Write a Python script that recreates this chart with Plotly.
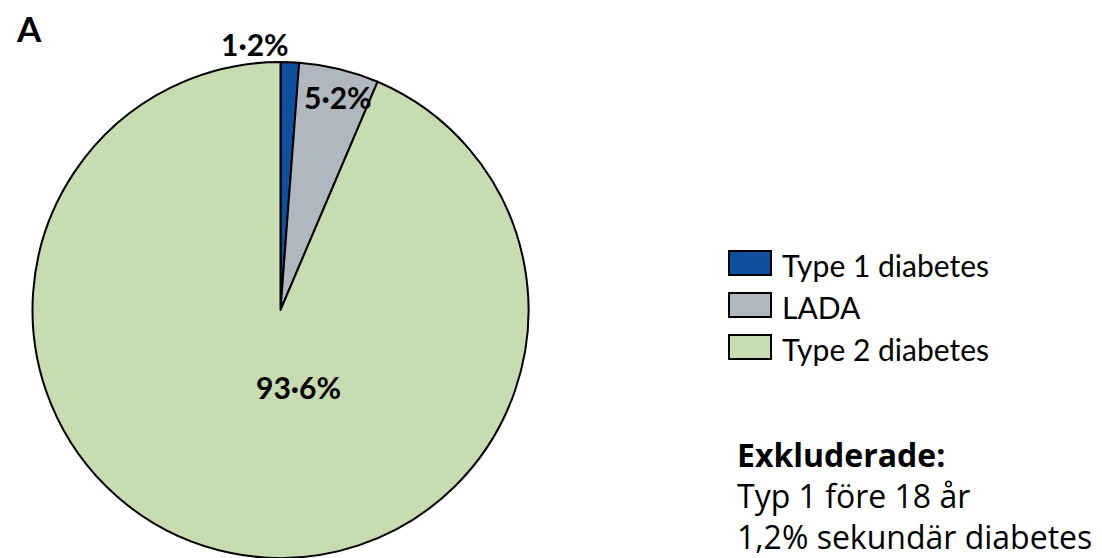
import plotly.graph_objects as go

# data
labels = ["Type 1 diabetes", "LADA", "Type 2 diabetes"]
values = [1.2, 5.2, 93.6]
colors = ["#0e4f9f", "#b1b7be", "#c7dcb0"]
excluded_title = "Exkluderade:"
excluded_lines = ["Typ 1 före 18 år", "1,2% sekundär diabetes"]

W, H = 1102, 558
OFF = 8  # page margin around the figure


def px(x, y):
    # screen pixel -> paper coords
    return (x - OFF) / W, 1 - (y - OFF) / H


fig = go.Figure()
dx0, dy1 = px(31, 62)
dx1, dy0 = px(530, 558)
fig.add_trace(go.Pie(
    labels=labels,
    values=values,
    sort=False,
    direction="clockwise",
    rotation=0,
    marker=dict(colors=colors, line=dict(color="black", width=2)),
    textinfo="none",
    hoverinfo="label+percent",
    showlegend=False,
    domain=dict(x=[dx0, dx1], y=[dy0, dy1]),
))

# slice labels
label_pos = [(255, 44), (338, 97), (298, 387)]
annotations = []
for v, (x, y) in zip(values, label_pos):
    ax, ay = px(x, y)
    annotations.append(dict(
        x=ax, y=ay, xref="paper", yref="paper", showarrow=False,
        xanchor="center", yanchor="middle",
        text="<b>" + f"{v:.1f}".replace(".", "·") + "%</b>",
        font=dict(family="Lato", size=30, color="black"),
    ))

# panel letter
ax, ay = px(29, 28)
annotations.append(dict(x=ax, y=ay, xref="paper", yref="paper", showarrow=False,
                        xanchor="center", yanchor="middle",
                        text="<b>A</b>", font=dict(family="Lato", size=35, color="black")))

# legend (drawn by hand so the swatches are big)
shapes = []
for i, (lab, col) in enumerate(zip(labels, colors)):
    yc = 263 + i * 42
    x0, y0 = px(729, yc - 12)
    x1, y1 = px(771, yc + 12)
    shapes.append(dict(type="rect", xref="paper", yref="paper", x0=x0, x1=x1, y0=y0, y1=y1,
                       fillcolor=col, line=dict(color="black", width=2)))
    tx, ty = px(780, yc + 2)
    annotations.append(dict(x=tx, y=ty, xref="paper", yref="paper", showarrow=False,
                            xanchor="left", yanchor="middle", text=lab,
                            font=dict(family="Lato", size=30, color="black")))

# excluded note
for i, line in enumerate([f"<b>{excluded_title}</b>"] + excluded_lines):
    tx, ty = px(735, 454 + i * 41)
    annotations.append(dict(x=tx, y=ty, xref="paper", yref="paper", showarrow=False,
                            xanchor="left", yanchor="middle", text=line,
                            font=dict(family="Open Sans", size=32, color="black")))

fig.update_layout(
    width=W, height=H,
    margin=dict(l=0, r=0, t=0, b=0),
    paper_bgcolor="white",
    plot_bgcolor="white",
    annotations=annotations,
    shapes=shapes,
)

fig.write_html("out.html")
